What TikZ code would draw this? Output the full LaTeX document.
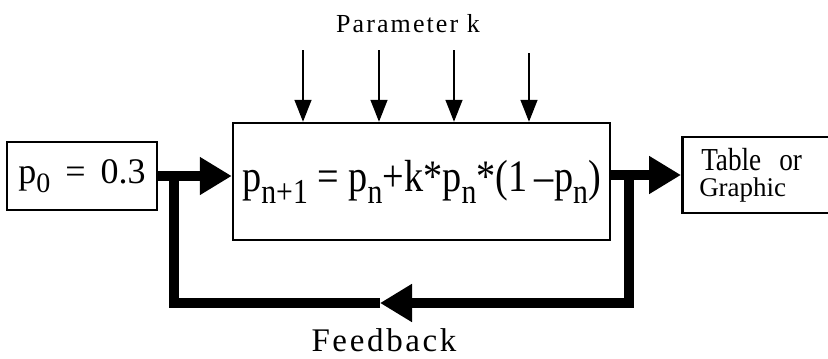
\documentclass[tikz,border=0pt]{standalone}
\usepackage{fontspec}
\setmainfont{Liberation Serif}
\newfontfamily\narrowfont[FakeStretch=0.85]{Liberation Serif}
\usetikzlibrary{positioning,arrows.meta,calc}

% lowered index: drop, size, text
\newcommand{\idx}[3]{\raisebox{-#1pt}{\fontsize{#2pt}{#2pt}\selectfont #3}}

\begin{document}
\begin{tikzpicture}[x=1pt,y=-1pt,
  blk/.style={draw,line width=2.5pt,inner sep=0pt},
  thk/.style={line width=10pt},
  big/.style={-{Triangle[length=32pt,width=36pt]}},
  par/.style={line width=1.6pt,-{Triangle[length=22pt,width=17pt]}}]
\clip (0,0) rectangle (828,359);
\node[blk,minimum width=150pt,minimum height=68pt] (init) at (82,176)
  {\fontsize{36pt}{36pt}\selectfont p\idx{9}{28}{0}\, = \,0.3};
\node[blk,minimum width=377pt,minimum height=117pt] (main) at (421.5,181.5)
  {\narrowfont\fontsize{45pt}{45pt}\selectfont
   p\idx{12}{35}{n+1} = p\idx{12}{35}{n}+k*p\idx{12}{35}{n}*(1\,–p\idx{12}{35}{n})};
\node[blk,anchor=west,minimum width=162pt,minimum height=76pt,
  inner xsep=19pt,inner ysep=0pt] (table) at (681,175)
  {\vbox{\baselineskip=26pt
   \hbox{\narrowfont\fontsize{32pt}{32pt}\selectfont Table\hspace{18pt}or}
   \hbox{\kern-2pt\fontsize{27pt}{27pt}\selectfont Graphic}}\hspace*{30pt}};
\node[anchor=base,font=\fontsize{26pt}{26pt}\selectfont\addfontfeature{LetterSpace=8}]
  (param) at (408,32) {Parameter k};
\node[anchor=base,inner sep=0pt,
  font=\fontsize{33pt}{33pt}\selectfont\addfontfeature{LetterSpace=8}]
  (fblabel) at (384,351) {Feedback};
% parameter inputs
\coordinate (k1) at (303,50);
\coordinate (k2) at (379,50);
\coordinate (k3) at (454,50);
\coordinate (k4) at (529,53);
\foreach \k in {k1,k2,k3,k4}
  \draw[par] (\k) -- (\k |- main.north);
% main flow
\draw[thk,big] (init.east) -- (init.east -| main.west);
\draw[thk,big] (main.east |- table.west) -- (table.west);
% feedback loop
\coordinate (fbR) at ($(main.east |- table.west)+(18,0)$);
\coordinate (fbL) at ($(init.east)+(16,0)$);
\coordinate (fbTip) at (380,303);
\draw[thk,big] (fbR) |- (fbTip);
\draw[thk] (fbTip) -| (fbL);
\end{tikzpicture}
\end{document}
